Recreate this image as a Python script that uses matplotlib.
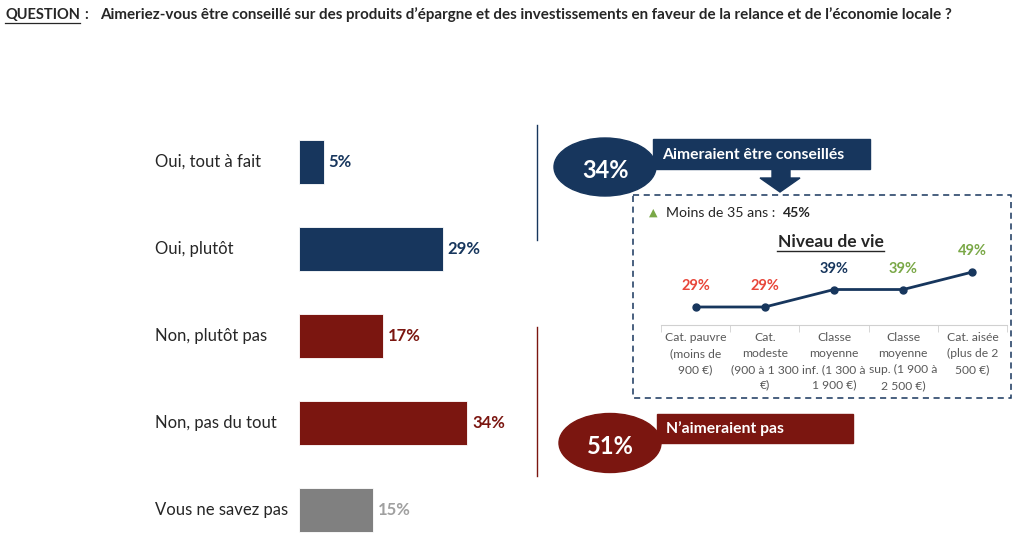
import matplotlib.pyplot as plt
from matplotlib.patches import Ellipse, Rectangle, Polygon

plt.rcParams['font.family'] = ['Lato', 'DejaVu Sans']

# data
question = "Aimeriez-vous être conseillé sur des produits d\u2019épargne et des investissements en faveur de la relance et de l\u2019économie locale ?"
answers = ["Oui, tout à fait", "Oui, plutôt", "Non, plutôt pas", "Non, pas du tout", "Vous ne savez pas"]
answer_pct = [5, 29, 17, 34, 15]
share_yes = 34
share_no = 51
under35_pct = 45
niveau_labels = ["Cat. pauvre\n(moins de\n900 €)",
                 "Cat.\nmodeste\n(900 à 1 300\n€)",
                 "Classe\nmoyenne\ninf. (1 300 à\n1 900 €)",
                 "Classe\nmoyenne\nsup. (1 900 à\n2 500 €)",
                 "Cat. aisée\n(plus de 2\n500 €)"]
niveau_pct = [29, 29, 39, 39, 49]

NAVY = '#17365d'
DRED = '#7b1610'
GRAY = '#808080'
RED = '#e8463a'
GREEN = '#7aa847'
TXT = '#262626'

bar_colors = [NAVY, NAVY, DRED, DRED, GRAY]
val_colors = [NAVY, NAVY, DRED, DRED, '#a0a0a0']
pt_colors = [RED, RED, NAVY, GREEN, GREEN]

W, H = 1024, 539
fig = plt.figure(figsize=(W / 100, H / 100), dpi=100)
fig.patch.set_facecolor('white')

def px_axes(x0, y0, x1, y1):
    # pixel box (top-left origin) -> figure axes
    return fig.add_axes([x0 / W, 1 - y1 / H, (x1 - x0) / W, (y1 - y0) / H])

# overlay in pixel coordinates
ov = fig.add_axes([0, 0, 1, 1])
ov.set_xlim(0, W)
ov.set_ylim(H, 0)
ov.axis('off')

ov.text(5, 15, "QUESTION", fontsize=10.5, fontweight='bold', color=TXT, va='center')
ov.plot([5, 80], [23, 23], color=TXT, lw=0.9)
ov.text(84, 15, ":", fontsize=10.5, fontweight='bold', color=TXT, va='center')
ov.text(100, 15, question, fontsize=10.9, fontweight='bold', color=TXT, va='center')

# bars
ax = px_axes(299, 118.5, 299 + 40 * 4.95, 539)
ypos = list(range(len(answers)))
ax.barh(ypos, answer_pct, height=0.5, color=bar_colors, edgecolor='white', lw=0.6)
ax.set_xlim(0, 40)
ax.set_ylim((539 - 162) / 87, -0.5)
ax.axis('off')
for y, v, lab, c in zip(ypos, answer_pct, answers, val_colors):
    ax.text(v + 1.0, y, f"{v}%", color=c, fontsize=12, fontweight='bold', va='center')
    ov.text(155, 162 + 87 * y, lab, color=TXT, fontsize=12, va='center')

# separators
ov.plot([537, 537], [125, 240], color=NAVY, lw=1)
ov.plot([537, 537], [327, 476], color=DRED, lw=1)

# 34% banner
ov.add_patch(Rectangle((653, 139), 217, 30, color=NAVY, zorder=2))
ov.add_patch(Ellipse((605, 167), 102, 58, color=NAVY, zorder=3))
ov.text(606, 170, f"{share_yes}%", color='white', fontsize=17, fontweight='bold',
        ha='center', va='center', zorder=4)
ov.text(753, 155, "Aimeraient être conseillés", color='white', fontsize=11.3,
        fontweight='bold', ha='center', va='center', zorder=4)
ov.add_patch(Polygon([(772, 168), (790, 168), (790, 178), (800, 178), (780, 192),
                      (760, 178), (772, 178)], color=NAVY, zorder=4))

# dashed box
ov.add_patch(Rectangle((633, 195), 378, 203, fill=False, edgecolor=NAVY, lw=1.1,
                       ls=(0, (4, 3))))
ov.text(649, 213, "\u25b2", color=GREEN, fontsize=8, va='center', family='DejaVu Sans')
ov.text(666, 213, "Moins de 35 ans :", color=TXT, fontsize=10.2, va='center')
ov.text(783, 213, f"{under35_pct}%", color=TXT, fontsize=10.2, fontweight='bold', va='center')
ov.text(831, 242, "Niveau de vie", color=TXT, fontsize=12.5, fontweight='bold',
        ha='center', va='center')
ov.plot([777, 884], [251, 251], color=TXT, lw=1)

# line chart
lx = px_axes(661, 250, 1007, 325)
xs = list(range(len(niveau_pct)))
lx.plot(xs, niveau_pct, color=NAVY, lw=2, marker='o', ms=5)
lx.set_xlim(-0.5, 4.5)
lx.set_ylim(18.7, 61.6)
for s in ['top', 'right', 'left']:
    lx.spines[s].set_visible(False)
lx.spines['bottom'].set_color('#d0d0d0')
lx.set_yticks([])
lx.set_xticks(xs)
lx.set_xticklabels(niveau_labels, fontsize=8.7, color='#595959', linespacing=1.55)
lx.set_xticks([i - 0.5 for i in range(6)], minor=True)
lx.tick_params(axis='x', which='major', length=0, pad=5)
lx.tick_params(axis='x', which='minor', length=5, color='#d0d0d0')
lx.patch.set_alpha(0)
for x, v, c in zip(xs, niveau_pct, pt_colors):
    lx.annotate(f"{v}%", (x, v), xytext=(0, 10), textcoords='offset points',
                ha='center', va='bottom', color=c, fontsize=10.5, fontweight='bold')

# 51% banner
ov.add_patch(Rectangle((657, 414), 196, 29, color=DRED, zorder=2))
ov.add_patch(Ellipse((610, 443), 102, 59, color=DRED, zorder=3))
ov.text(610, 447, f"{share_no}%", color='white', fontsize=17, fontweight='bold',
        ha='center', va='center', zorder=4)
ov.text(666, 429, "N\u2019aimeraient pas", color='white', fontsize=11.3,
        fontweight='bold', ha='left', va='center', zorder=4)

fig.savefig('out.png', dpi=100)
